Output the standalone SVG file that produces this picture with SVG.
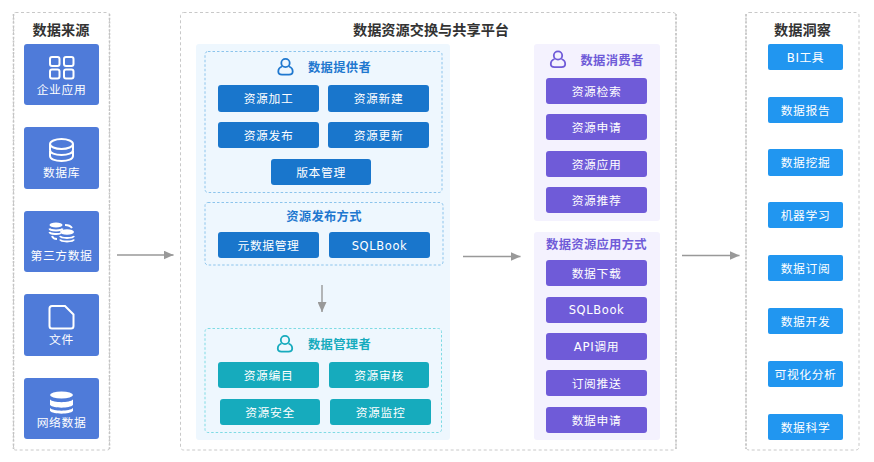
<svg xmlns="http://www.w3.org/2000/svg" width="874" height="462" viewBox="0 0 874 462">
  <style>
    text { font-family: "DejaVu Sans", "Noto Sans CJK SC", sans-serif; text-anchor: middle; dominant-baseline: central; transform: translateY(0.5px); }
    .panel { fill: #fff; stroke: #c8c8c8; stroke-width: 1; stroke-dasharray: 3 2.5; }
    .side { stroke: #c4c4c4; stroke-width: 1.6; stroke-dasharray: 2 1.8; fill: none; }
    .title { font-size: 14.2px; font-weight: 700; fill: #333; }
    .lbl { font-size: 11.8px; fill: #fff; letter-spacing: .6px; }
    .latin { font-size: 11.5px; letter-spacing: .6px; }
    .src { fill: #4f7bd9; }
    .blue { fill: #1976cc; }
    .teal { fill: #16abbd; }
    .purple { fill: #6f5bd8; }
    .sky { fill: #2196f0; }
    .sub { font-size: 12.3px; font-weight: 700; letter-spacing: .3px; }
    .ic { fill: none; stroke: #fff; stroke-width: 2; }
    .line { stroke: #999; stroke-width: 1.4; fill: none; marker-end: url(#arrow); }
  </style>
  <defs>
    <marker id="arrow" viewBox="0 0 10 9" refX="10" refY="4.5" markerUnits="userSpaceOnUse" markerWidth="10" markerHeight="9" orient="auto">
      <path d="M0 0L10 4.5L0 9z" fill="#999"/>
    </marker>
    <g id="person">
      <circle cx="0" cy="-4" r="4.2" fill="none" stroke="currentColor" stroke-width="1.8"/>
      <path d="M-3.5 -0.5C-6.5 0.5 -7.2 3 -7.2 4.5C-7.2 7 -5.5 7.6 -3.5 7.6H3.5C5.5 7.6 7.2 7 7.2 4.5C7.2 3 6.5 0.5 3.5 -0.5" fill="none" stroke="currentColor" stroke-width="1.8"/>
    </g>
  </defs>

  <rect width="874" height="462" fill="#fff"/>

  <g id="sources">
    <rect class="panel" x="13.500" y="12.500" width="96" height="437.500" rx="2"/>
    <path class="side" d="M13.500 14V449M109.500 14V449"/>
    <text class="title" x="61" y="29">数据来源</text>
    <g id="src-app">
      <rect class="src" x="24" y="44" width="75" height="61" rx="3"/>
      <rect class="ic" x="50" y="57" width="9.500" height="9" rx="2"/>
      <rect class="ic" x="64" y="57" width="9.500" height="9" rx="2"/>
      <rect class="ic" x="50" y="69.500" width="9.500" height="9" rx="2"/>
      <rect class="ic" x="64" y="69.500" width="9.500" height="9" rx="2"/>
      <text class="lbl" x="61.500" y="89">企业应用</text>
    </g>
    <g id="src-db">
      <rect class="src" x="24" y="127" width="75" height="62" rx="3"/>
      <ellipse class="ic" cx="61.500" cy="144" rx="11.500" ry="5"/>
      <path class="ic" d="M50 144V150C50 153 55 155 61.500 155S73 153 73 150V144M50 151V156C50 159 55 161 61.500 161S73 159 73 156V151"/>
      <text class="lbl" x="61.500" y="172.500">数据库</text>
    </g>
    <g id="src-third">
      <rect class="src" x="24" y="211" width="75" height="61" rx="3"/>
      <ellipse cx="56" cy="225" rx="6.500" ry="2.500" fill="#fff"/>
      <path class="ic" stroke-width="1.500" d="M49.500 228.500C50 231 62 231 62.500 228.500M49.500 232C50 234.500 60 234.500 60.500 233"/>
      <ellipse cx="67" cy="232" rx="7" ry="2.800" fill="#fff"/>
      <path class="ic" stroke-width="1.500" d="M60 236C61 238.500 73 238.500 74 236M60 239.500C61 242 73 242 74 239.500"/>
      <path class="ic" stroke-width="1" d="M65 225Q70 225 72 228M52 236Q53 239 57 239"/>
      <text class="lbl" x="61.500" y="255.500">第三方数据</text>
    </g>
    <g id="src-file">
      <rect class="src" x="24" y="294" width="75" height="62" rx="3"/>
      <path class="ic" d="M52 306H65L73.500 314.500V326C73.500 327.500 72.500 328.500 71 328.500H52C50.500 328.500 49.500 327.500 49.500 326V308.500C49.500 307 50.500 306 52 306Z"/>
      <text class="lbl" x="61.500" y="339">文件</text>
    </g>
    <g id="src-web">
      <rect class="src" x="24" y="378" width="75" height="61" rx="3"/>
      <ellipse cx="61.500" cy="395" rx="11.500" ry="3.500" fill="#fff"/>
      <path d="M50 399.500C53 403 70 403 73 399.500V405C70 408.500 53 408.500 50 405Z" fill="#fff"/>
      <path d="M50 408C53 411.500 70 411.500 73 408V411C70 414.500 53 414.500 50 411Z" fill="#fff"/>
      <text class="lbl" x="61.500" y="422.500">网络数据</text>
    </g>
  </g>

  <g id="platform">
    <rect class="panel" x="180.500" y="12.500" width="495.500" height="437.500" rx="3"/>
    <path class="side" d="M676 14V449"/>
    <text class="title" x="431" y="29">数据资源交换与共享平台</text>
    <rect x="196" y="44" width="254" height="396" rx="3" fill="#eef7fe"/>
    <rect x="534" y="44" width="126" height="177" rx="3" fill="#f4f2fe"/>
    <rect x="534" y="232" width="126" height="208" rx="3" fill="#f4f2fe"/>
  </g>

  <g id="provider">
    <rect x="205" y="51.500" width="237" height="141" rx="3" fill="none" stroke="#8cc4ec" stroke-dasharray="2.500 2"/>
    <use href="#person" x="285.500" y="67" color="#1f78cf"/>
    <text class="sub" x="339.500" y="67" fill="#1f78cf">数据提供者</text>
    <g id="p-process"><rect class="blue" x="218" y="85" width="101" height="27" rx="3"/><text class="lbl" x="268.500" y="98.500">资源加工</text></g>
    <g id="p-create"><rect class="blue" x="328" y="85" width="101" height="27" rx="3"/><text class="lbl" x="378.500" y="98.500">资源新建</text></g>
    <g id="p-publish"><rect class="blue" x="218" y="122" width="101" height="26" rx="3"/><text class="lbl" x="268.500" y="135">资源发布</text></g>
    <g id="p-update"><rect class="blue" x="328" y="122" width="101" height="26" rx="3"/><text class="lbl" x="378.500" y="135">资源更新</text></g>
    <g id="p-version"><rect class="blue" x="271" y="159" width="100" height="26" rx="3"/><text class="lbl" x="321" y="172">版本管理</text></g>
  </g>

  <g id="publish-mode">
    <rect x="205" y="202.500" width="238" height="62.500" rx="3" fill="none" stroke="#8cc4ec" stroke-dasharray="2.500 2"/>
    <text class="sub" x="324" y="216" fill="#1f78cf">资源发布方式</text>
    <g id="m-meta"><rect class="blue" x="218" y="232" width="101" height="26" rx="3"/><text class="lbl" x="268.500" y="245">元数据管理</text></g>
    <g id="m-sql"><rect class="blue" x="329" y="232" width="101" height="26" rx="3"/><text class="lbl latin" x="379.500" y="245">SQLBook</text></g>
  </g>

  <g id="manager">
    <rect x="205" y="328.500" width="236.500" height="104" rx="3" fill="none" stroke="#7fdbe4" stroke-dasharray="2.500 2"/>
    <use href="#person" x="285" y="344" color="#16abbd"/>
    <text class="sub" x="339.500" y="344" fill="#16abbd">数据管理者</text>
    <g id="a-catalog"><rect class="teal" x="218" y="362" width="101" height="26" rx="3"/><text class="lbl" x="268.500" y="375">资源编目</text></g>
    <g id="a-audit"><rect class="teal" x="329" y="362" width="100" height="26" rx="3"/><text class="lbl" x="379" y="375">资源审核</text></g>
    <g id="a-safe"><rect class="teal" x="220" y="399" width="100" height="26" rx="3"/><text class="lbl" x="270" y="412">资源安全</text></g>
    <g id="a-monitor"><rect class="teal" x="330" y="399" width="101" height="26" rx="3"/><text class="lbl" x="380.500" y="412">资源监控</text></g>
  </g>

  <g id="consumer">
    <use href="#person" x="558" y="59.500" color="#6f5bd8"/>
    <text class="sub" x="612" y="60" fill="#6f5bd8">数据消费者</text>
    <g id="c-search"><rect class="purple" x="546" y="78" width="101" height="26" rx="3"/><text class="lbl" x="596.500" y="91">资源检索</text></g>
    <g id="c-apply"><rect class="purple" x="546" y="114" width="101" height="26" rx="3"/><text class="lbl" x="596.500" y="127.500">资源申请</text></g>
    <g id="c-use"><rect class="purple" x="546" y="151" width="101" height="26" rx="3"/><text class="lbl" x="596.500" y="164">资源应用</text></g>
    <g id="c-rec"><rect class="purple" x="546" y="187" width="101" height="26" rx="3"/><text class="lbl" x="596.500" y="200.500">资源推荐</text></g>
  </g>

  <g id="usage-mode">
    <text class="sub" x="596.500" y="244.500" fill="#6f5bd8">数据资源应用方式</text>
    <g id="u-down"><rect class="purple" x="546" y="260" width="101" height="26" rx="3"/><text class="lbl" x="596.500" y="273">数据下载</text></g>
    <g id="u-sql"><rect class="purple" x="546" y="297" width="101" height="26" rx="3"/><text class="lbl latin" x="596.500" y="309.500">SQLBook</text></g>
    <g id="u-api"><rect class="purple" x="546" y="333" width="101" height="27" rx="3"/><text class="lbl" x="596.500" y="346.500">API调用</text></g>
    <g id="u-sub"><rect class="purple" x="546" y="370" width="101" height="26" rx="3"/><text class="lbl" x="596.500" y="383.500">订阅推送</text></g>
    <g id="u-req"><rect class="purple" x="546" y="407" width="101" height="26" rx="3"/><text class="lbl" x="596.500" y="420">数据申请</text></g>
  </g>

  <g id="insights">
    <rect class="panel" x="746" y="12.500" width="113" height="437.500" rx="3"/>
    <path class="side" d="M746 14V449"/>
    <text class="title" x="802.500" y="29">数据洞察</text>
    <g id="i-bi"><rect class="sky" x="768" y="44" width="75" height="26" rx="2"/><text class="lbl" x="805.500" y="57">BI工具</text></g>
    <g id="i-report"><rect class="sky" x="768" y="97" width="75" height="26" rx="2"/><text class="lbl" x="805.500" y="110">数据报告</text></g>
    <g id="i-mine"><rect class="sky" x="768" y="149" width="75" height="27" rx="2"/><text class="lbl" x="805.500" y="162.500">数据挖掘</text></g>
    <g id="i-ml"><rect class="sky" x="768" y="202" width="75" height="26" rx="2"/><text class="lbl" x="805.500" y="215">机器学习</text></g>
    <g id="i-sub"><rect class="sky" x="768" y="255" width="75" height="26" rx="2"/><text class="lbl" x="805.500" y="268">数据订阅</text></g>
    <g id="i-dev"><rect class="sky" x="768" y="308" width="75" height="26" rx="2"/><text class="lbl" x="805.500" y="321">数据开发</text></g>
    <g id="i-vis"><rect class="sky" x="768" y="361" width="75" height="26" rx="2"/><text class="lbl" x="805.500" y="374">可视化分析</text></g>
    <g id="i-sci"><rect class="sky" x="768" y="414" width="75" height="26" rx="2"/><text class="lbl" x="805.500" y="427">数据科学</text></g>
  </g>

  <g id="connectors">
    <path class="line" d="M117 255H173.500"/>
    <path class="line" d="M463 256.500H520.500"/>
    <path class="line" d="M682 255.500H739.500"/>
    <path class="line" d="M322 285V312"/>
  </g>
</svg>
